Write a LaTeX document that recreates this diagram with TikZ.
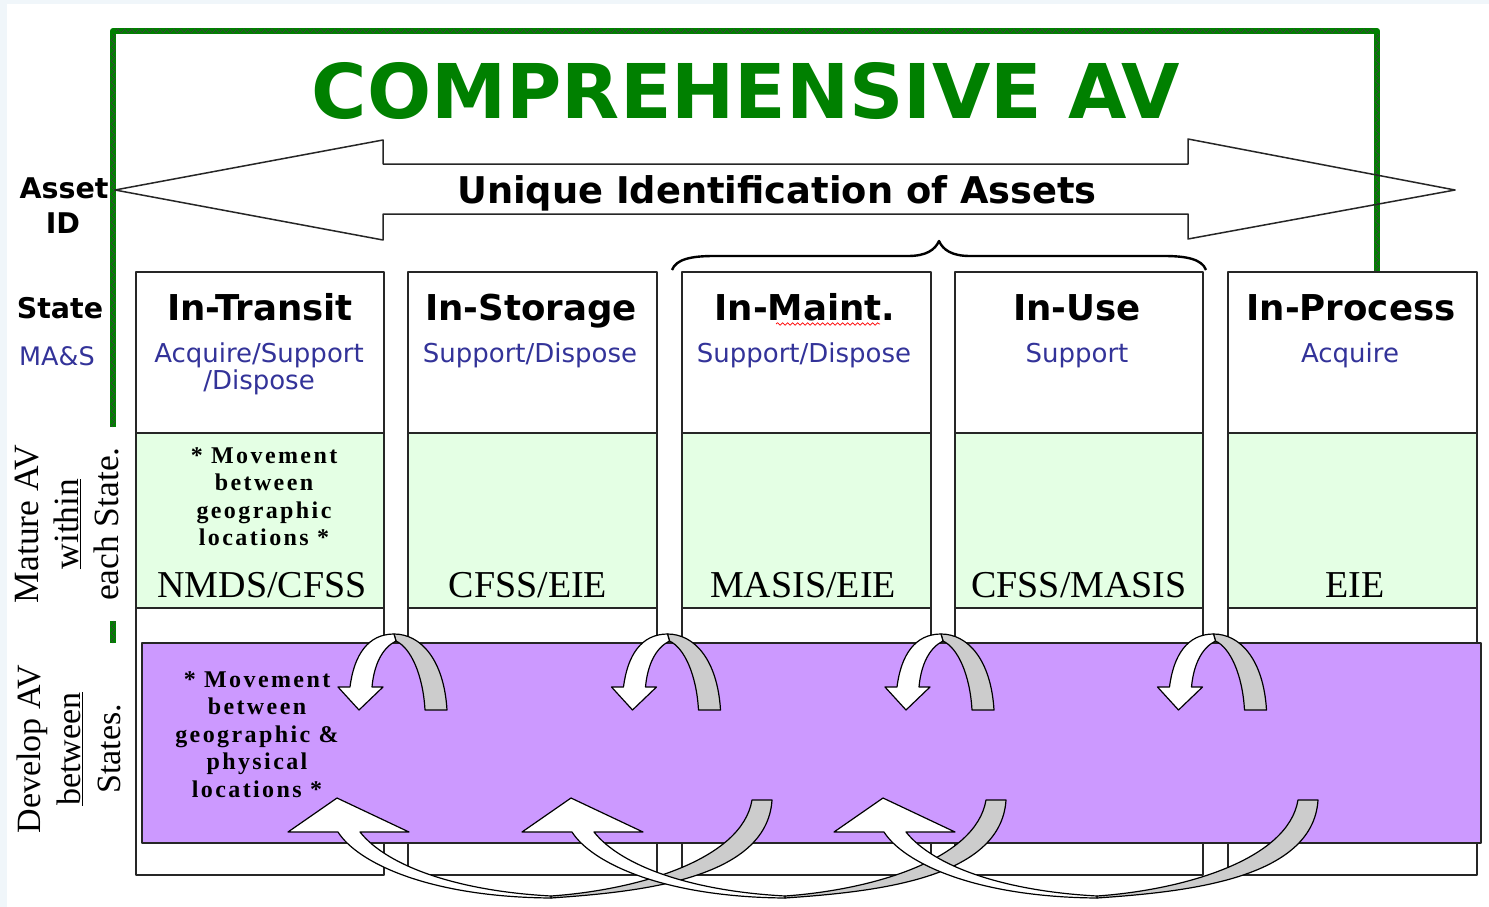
\documentclass[tikz,border=0pt]{standalone}
\usepackage{fontspec}
\setmainfont{Liberation Serif}
\newfontfamily\vsans{DejaVu Sans}
\usetikzlibrary{decorations.pathmorphing}
\definecolor{titlegreen}{RGB}{0,128,0}
\definecolor{subblue}{RGB}{51,51,153}
\definecolor{mintfill}{RGB}{228,255,228}
\definecolor{lilac}{RGB}{204,153,255}
\definecolor{backgray}{RGB}{204,204,204}
\definecolor{edgeblue}{RGB}{240,246,250}
\newcommand\stk[1]{\begin{tabular}[t]{@{}c@{}}#1\end{tabular}}
\newcommand\stkc[1]{\begin{tabular}{@{}c@{}}#1\end{tabular}}
\begin{document}
\begin{tikzpicture}[x=1pt,y=-1pt,line join=round,
  colbox/.style={draw=black!85,line width=1.3pt},
  greenframe/.style={draw=titlegreen,line width=6pt},
  frametex/.style={draw=black!75,line width=0.6pt,decorate,decoration={zigzag,segment length=7pt,amplitude=2.2pt}},
  arrowedge/.style={draw=black,line width=1.2pt},
  hdr/.style={anchor=base,inner sep=0pt,font=\vsans\bfseries\fontsize{35.6}{40}\selectfont},
  sub/.style={anchor=base,inner sep=0pt,text=subblue,font=\vsans\fontsize{26}{27}\selectfont},
  sidelbl/.style={anchor=base,inner sep=0pt,font=\vsans\bfseries\fontsize{28.5}{34}\selectfont},
  sysname/.style={anchor=base,inner sep=0pt,font=\fontsize{38}{40}\selectfont},
  movetxt/.style={anchor=base,inner sep=0pt,font=\fontsize{24}{27.6}\selectfont\bfseries\addfontfeatures{LetterSpace=10}},
  vlabel/.style={rotate=90,inner sep=0pt},
  uturn/.pic={
    \draw[arrowedge,fill=backgray] (-2,634) .. controls (25,634) and (48,660) .. (51,710) -- (29,710) .. controls (27,675) and (15,648) .. (0,641) -- cycle;
    \draw[arrowedge,fill=white] (-58,687) -- (-46,687) .. controls (-42,655) and (-28,634) .. (-2,634) -- (0,641) .. controls (-14,648) and (-22,665) .. (-24,687) -- (-13,687) -- (-37,710) -- cycle;
  },
  sweep/.pic={
    \draw[arrowedge,fill=backgray] (214,898) .. controls (300,892) and (430,880) .. (435,800) -- (415,800) .. controls (405,860) and (300,890) .. (214,896) -- cycle;
    \draw[arrowedge,fill=white] (0,798) -- (72,832) -- (23,832) .. controls (50,866) and (120,891) .. (214,896) -- (214,898) .. controls (90,897) and (20,862) .. (1,832) -- (-49,832) -- cycle;
  }
]
\useasboundingbox (0,0) rectangle (1489,907);
\fill[white] (0,0) rectangle (1489,907);
\fill[edgeblue] (0,0) rectangle (7,907);
\fill[edgeblue] (0,0) rectangle (1489,4);

% green frame
\coordinate (ftl) at (113,31);
\coordinate (ftr) at (1377,31);
\coordinate (fr) at (1377,272);
\coordinate (fl1) at (113,427);
\coordinate (fl2) at (113,621);
\coordinate (fl3) at (113,643);
\draw[greenframe] (fl1) -- (ftl) -- (ftr) -- (fr);
\draw[greenframe] (fl2) -- (fl3);
\draw[frametex] (113,427) -- (113,34);
\draw[frametex] (116,31) -- (1374,31);
\draw[frametex] (1377,34) -- (1377,272);
\draw[frametex] (113,621) -- (113,643);

% title
\node[anchor=base,inner sep=0pt,text=titlegreen,font=\vsans\bfseries\fontsize{75.5}{80}\selectfont] (title) at (746,118) {COMPREHENSIVE AV};

% big double arrow
\draw[line width=1.5pt,black!85] (115,190) -- (383,140) -- (383,164) -- (1188,164) -- (1188,139) -- (1455,190) -- (1188,239) -- (1188,214) -- (383,214) -- (383,240) -- cycle;
\node[anchor=base,inner sep=0pt,font=\vsans\bfseries\fontsize{36.8}{40}\selectfont] (uid) at (777,203) {Unique Identification of Assets};

% side labels
\node[sidelbl] (asset) at (64,198) {Asset};
\node[sidelbl] (assetid) at (63,233) {ID};
\node[sidelbl] (state) at (60,318) {State};
\node[anchor=base,inner sep=0pt,text=subblue,font=\vsans\fontsize{25.5}{30}\selectfont] (mas) at (57,365) {MA\&S};

% columns
\foreach \xa/\xb/\nm in {136/384/c1,408/657/c2,682/931/c3,955/1203/c4,1228/1477/c5}{
  \draw[colbox,fill=white] (\xa,272) rectangle (\xb,875);
  \draw[colbox,fill=mintfill] (\xa,433) rectangle (\xb,608);
}

% brace over In-Maint. and In-Use
\draw[line width=2.4pt,black] (672,270) .. controls (676,259) and (692,256) .. (714,256) -- (908,256) .. controls (926,256) and (935,250) .. (939,241) .. controls (943,250) and (952,256) .. (970,256) -- (1164,256) .. controls (1186,256) and (1202,259) .. (1206,270);

% headers
\node[hdr] (h1) at (260,320) {In-Transit};
\node[hdr] (h2) at (531,320) {In-Storage};
\node[hdr] (h3) at (805,320) {In-Maint.};
\node[hdr] (h4) at (1077,320) {In-Use};
\node[hdr] (h5) at (1351,320) {In-Process};
\draw[red,line width=0.7pt,decorate,decoration={snake,segment length=5pt,amplitude=1.3pt}] (776,324) -- (880,324);

\node[sub] (s1a) at (259,362) {Acquire/Support};
\node[sub] (s1b) at (259,389) {/Dispose};
\node[sub] (s2) at (530,362) {Support/Dispose};
\node[sub] (s3) at (804,362) {Support/Dispose};
\node[sub] (s4) at (1077,362) {Support};
\node[sub] (s5) at (1350,362) {Acquire};

% mature row texts
\node[movetxt] (mv1) at (264,463) {\stk{* Movement\\between\\geographic\\locations *}};
\node[sysname] (n1) at (262,597) {NMDS/CFSS};
\node[sysname] (n2) at (528,597) {CFSS/EIE};
\node[sysname] (n3) at (803,597) {MASIS/EIE};
\node[sysname] (n4) at (1079,597) {CFSS/MASIS};
\node[sysname] (n5) at (1355,597) {EIE};

% vertical labels
\node[vlabel,font=\fontsize{35.5}{40}\selectfont] (mature) at (70,524) {\stkc{Mature AV\\\underline{within}\\each State.}};
\node[vlabel,font=\fontsize{34}{40}\selectfont] (develop) at (72,749) {\stkc{Develop AV\\\underline{between}\\States.}};

% purple band
\draw[black!85,line width=1.3pt,fill=lilac] (142,643) rectangle (1481,843);
\node[movetxt] (mv2) at (257,687) {\stk{* Movement\\between\\geographic \&\\physical\\locations *}};

% u-turn arrows between neighbouring states
\pic at (396,0) {uturn};
\pic at (669.5,0) {uturn};
\pic at (943,0) {uturn};
\pic at (1215.5,0) {uturn};

% long return arrows
\pic at (337,0) {sweep};
\pic at (571,0) {sweep};
\pic at (883,0) {sweep};
\end{tikzpicture}
\end{document}
